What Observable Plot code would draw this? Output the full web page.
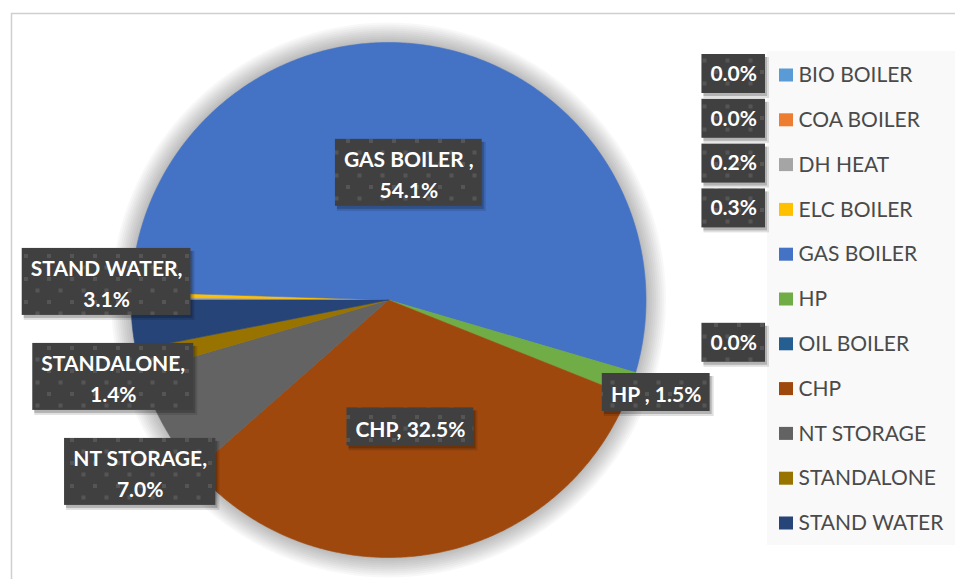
<!DOCTYPE html>
<html>
<head>
<meta charset="utf-8">
<script src="https://cdn.jsdelivr.net/npm/d3@7"></script>
<script src="https://cdn.jsdelivr.net/npm/@observablehq/plot@0.6"></script>
<style>
  html, body { margin: 0; padding: 0; background: #ffffff; }
  svg { display: block; }
</style>
</head>
<body>
<div id="chart"></div>
<script>
// ---- data ----
const categories = ["BIO BOILER", "COA BOILER", "DH HEAT", "ELC BOILER", "GAS BOILER ", "HP ", "OIL BOILER", "CHP", "NT STORAGE", "STANDALONE", "STAND WATER"];
const shares = [0.0, 0.0, 0.2, 0.3, 54.1, 1.5, 0.0, 32.5, 7.0, 1.4, 3.1];
const colors = ["#5B9BD5", "#ED7D31", "#A5A5A5", "#FFC000", "#4472C4", "#70AD47", "#255E91", "#9E480E", "#636363", "#997300", "#264478"];

// ---- layout ----
const W = 955, H = 579;
const cx = 388, cy = 299.5, R = 257.5;
const FONT = "Lato";
const labelSize = 21, legendSize = 21;
const swX = 779, legendY0 = 75, legendStep = 44.8;
const gap = 28;

const rows = categories.map((name, i) => ({name, share: shares[i], i}));
const fmt = v => v.toFixed(1) + "%";

const ctx = document.createElement("canvas").getContext("2d");
ctx.font = `bold ${labelSize}px ${FONT}`;
const tw = s => ctx.measureText(s).width;

const arcs = d3.pie().sort(null).value(d => d.share)
  .startAngle(-Math.PI / 2).endAngle(1.5 * Math.PI)(rows);

// slice polygons
const poly = [];
for (const a of arcs) {
  if (a.data.share <= 0) continue;
  const n = Math.max(2, Math.ceil((a.endAngle - a.startAngle) / (Math.PI / 360)));
  poly.push({name: a.data.name, x: cx, y: cy});
  for (let k = 0; k <= n; k++) {
    const t = a.startAngle + (a.endAngle - a.startAngle) * k / n;
    poly.push({name: a.data.name, x: cx + R * Math.sin(t), y: cy - R * Math.cos(t)});
  }
  poly.push({name: a.data.name, x: cx, y: cy});
}

// soft halo (shadow) rings around the pie
const halo = [];
for (let k = 1; k <= 10; k++) {
  const r = R + k * 2;
  for (let j = 0; j <= 360; j++) {
    const t = j * Math.PI / 180;
    halo.push({ring: k, x: cx + r * Math.sin(t), y: cy - r * Math.cos(t)});
  }
}

// data labels on / beside the pie
const labels = [];
for (const a of arcs) {
  const v = a.data.share;
  if (v < 1) continue;
  const mid = (a.startAngle + a.endAngle) / 2;
  const inside = v >= 10;
  const f = inside ? 0.5 : 1.1;
  const one = a.data.name + ", " + fmt(v);
  const lines = tw(one) > 135 ? [a.data.name + ",", fmt(v)] : [one];
  const w = Math.max(...lines.map(tw)) + 17;
  const h = lines.length * 29 + 9;
  labels.push({
    text: lines.join("\n"), w, h, inside,
    side: Math.sin(mid) < 0 ? "L" : "R",
    x: cx + R * f * Math.sin(mid), y: cy - R * f * Math.cos(mid)
  });
}
// de-overlap outside labels per side: merge colliding labels into clusters centred on their natural positions
for (const side of ["L", "R"]) {
  const g = labels.filter(d => !d.inside && d.side === side).sort((a, b) => a.y - b.y);
  let clusters = [];
  const layout = c => {
    const offs = [0];
    for (let i = 1; i < c.length; i++) offs.push(offs[i - 1] + (c[i - 1].h + c[i].h) / 2 + gap);
    const top = d3.mean(c, (d, i) => d.y0 - offs[i]);
    c.forEach((d, i) => d.y = top + offs[i]);
  };
  for (const d of g) {
    d.y0 = d.y;
    clusters.push([d]);
    let merged = true;
    while (merged && clusters.length > 1) {
      merged = false;
      const b = clusters[clusters.length - 1], a = clusters[clusters.length - 2];
      const la = a[a.length - 1], fb = b[0];
      if (la.y + la.h / 2 + gap > fb.y - fb.h / 2) {
        clusters.splice(-2, 2, a.concat(b));
        layout(clusters[clusters.length - 1]);
        merged = true;
      }
    }
  }
}

// legend rows
const legend = rows.map((d, i) => ({name: d.name, label: d.name.trim(), share: d.share, y: legendY0 + i * legendStep}));
const legendVals = legend.filter(d => d.share < 1).map(d => {
  const w = tw(fmt(d.share)) + 17;
  return {text: fmt(d.share), x2: swX - 14, x1: swX - 14 - w, y: d.y - 1.5, h: 39};
});

// all boxes in one list (for shadows)
const boxes = [
  ...labels.map(d => ({x1: d.x - d.w / 2, x2: d.x + d.w / 2, y1: d.y - d.h / 2, y2: d.y + d.h / 2})),
  ...legendVals.map(d => ({x1: d.x1, x2: d.x2, y1: d.y - d.h / 2, y2: d.y + d.h / 2}))
];
const shadowLayer = (dx, dy, grow, op) => Plot.rect(boxes, {
  x1: d => d.x1 + dx - grow, x2: d => d.x2 + dx + grow,
  y1: d => d.y1 + dy - grow, y2: d => d.y2 + dy + grow,
  fill: "#000000", fillOpacity: op
});

const plot = Plot.plot({
  width: W, height: H,
  margin: 0,
  x: {domain: [0, W], range: [0, W], axis: null},
  y: {domain: [0, H], range: [0, H], axis: null},
  color: {domain: categories, range: colors},
  style: {fontFamily: FONT, background: "#ffffff"},
  marks: [
    Plot.frame({stroke: "#cfcfcf", strokeWidth: 1.5, insetLeft: 11, insetTop: 13, insetRight: -20, insetBottom: -20}),
    // legend background
    Plot.rect([legend], {
      x1: () => swX - 12, x2: () => W + 10,
      y1: d => d[0].y - 24, y2: d => d[d.length - 1].y + 22,
      fill: "#f9f9f9"
    }),
    // pie halo + pie
    Plot.line(halo, {x: "x", y: "y", z: "ring", fill: "#000000", fillOpacity: 0.028, stroke: null}),
    Plot.line(poly, {x: "x", y: "y", z: "name", fill: "name", stroke: "name", strokeWidth: 0.6}),
    // legend swatches + names
    Plot.rect(legend, {x1: swX, x2: swX + 14, y1: d => d.y - 6.5, y2: d => d.y + 6.5, fill: "name"}),
    Plot.text(legend, {x: swX + 19, y: "y", text: "label", textAnchor: "start", fill: "#4a4a4a", fontSize: legendSize}),
    // label box shadows + boxes
    shadowLayer(3, 4, 1, 0.12),
    shadowLayer(2, 3, 0, 0.2),
    Plot.rect(boxes, {x1: "x1", x2: "x2", y1: "y1", y2: "y2", fill: "url(#tex)"}),
    Plot.text(labels, {x: "x", y: "y", text: "text", fill: "white", fontWeight: "bold", fontSize: labelSize, lineHeight: 1.48}),
    Plot.text(legendVals, {x: d => (d.x1 + d.x2) / 2, y: "y", text: "text", fill: "white", fontWeight: "bold", fontSize: labelSize})
  ]
});

// texture pattern for label boxes
const ns = "http://www.w3.org/2000/svg";
const defs = document.createElementNS(ns, "defs");
defs.innerHTML = `<pattern id="tex" width="23" height="23" patternUnits="userSpaceOnUse">
  <rect width="23" height="23" fill="#404040"/>
  <rect x="1" y="1" width="4" height="4" fill="#555555"/>
  <rect x="12.5" y="12.5" width="4" height="4" fill="#555555"/>
</pattern>`;
plot.insertBefore(defs, plot.firstChild);
document.getElementById("chart").appendChild(plot);
</script>
</body>
</html>
